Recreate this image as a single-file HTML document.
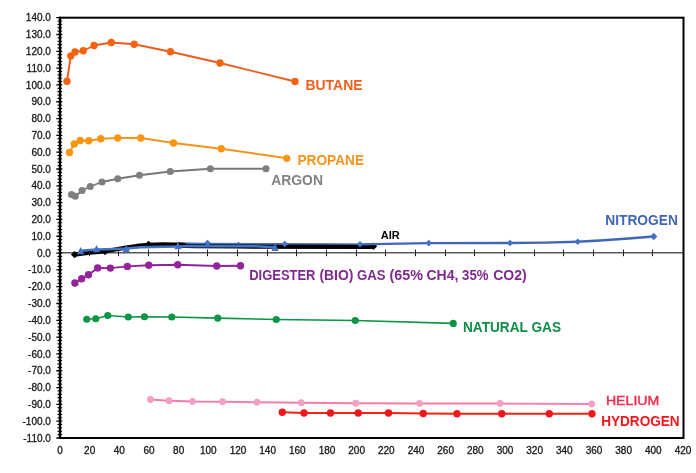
<!DOCTYPE html>
<html lang="en"><head><meta charset="utf-8"><title>Gas chart</title>
<style>html,body{margin:0;padding:0;background:#fff;}body{width:696px;height:473px;overflow:hidden}</style></head>
<body>
<svg width="696" height="473" viewBox="0 0 696 473" style="display:block">
<rect width="696" height="473" fill="#fff"/>
<line x1="60.0" y1="252.80" x2="683.5" y2="252.80" stroke="#58595b" stroke-width="1.5"/>
<path d="M89.5 249.50V256.20M118.5 249.50V256.20M148.5 249.50V256.20M178.5 249.50V256.20M207.5 249.50V256.20M237.5 249.50V256.20M267.5 249.50V256.20M296.5 249.50V256.20M326.5 249.50V256.20M356.5 249.50V256.20M385.5 249.50V256.20M415.5 249.50V256.20M445.5 249.50V256.20M474.5 249.50V256.20M504.5 249.50V256.20M534.5 249.50V256.20M563.5 249.50V256.20M593.5 249.50V256.20M623.5 249.50V256.20M652.5 249.50V256.20" stroke="#231f20" stroke-width="1" fill="none"/>
<path d="M74.60 254.60L82.00 253.60L90.00 252.70L105.00 251.30L115.00 249.50L126.00 247.70L137.00 246.00L148.50 244.80L163.00 244.50L175.00 244.60L185.00 245.10L195.00 245.50L238.50 245.80L275.00 246.20L300.00 246.30L340.00 246.30L373.50 246.30" stroke="#000" stroke-width="4.3" fill="none" stroke-linejoin="round" stroke-linecap="round"/>
<path d="M178 244.9L186 245.3L195 245.6L238.5 245.9L275 246.2L373.5 246.3" stroke="#000" stroke-width="5.2" fill="none" stroke-linejoin="round"/>
<path d="M74.60 250.90L78.30 254.60L74.60 258.30L70.90 254.60Z" fill="#000"/>
<path d="M105.00 248.00L108.60 251.60L105.00 255.20L101.40 251.60Z" fill="#000"/>
<path d="M148.50 240.70L152.40 244.60L148.50 248.50L144.60 244.60Z" fill="#000"/>
<path d="M238.50 242.00L241.80 245.30L238.50 248.60L235.20 245.30Z" fill="#000"/>
<path d="M373.50 242.60L377.20 246.30L373.50 250.00L369.80 246.30Z" fill="#000"/>
<path d="M186 243.3L207.5 243.5L284.75 244.0" stroke="#4472c4" stroke-width="1.5" fill="none"/>
<path d="M284.75 244.1L360 244.3" stroke="#3357ad" stroke-width="1.2" fill="none"/>
<path d="M80.6 250.7L96.5 249.5L115 248.9L126 248.5L140 247.3L165 246.8L178 246.5L190 246.1L255 246.2L275 247.2" stroke="#4472c4" stroke-width="2.5" fill="none" stroke-linejoin="round"/>
<path d="M80.60 246.90L84.30 254.30L76.90 254.30Z" fill="#4472c4"/>
<path d="M96.50 244.90L100.20 252.30L92.80 252.30Z" fill="#4472c4"/>
<path d="M126.25 244.90L129.95 252.30L122.55 252.30Z" fill="#4472c4"/>
<path d="M178.00 241.90L181.70 249.30L174.30 249.30Z" fill="#4472c4"/>
<path d="M275.00 243.60L278.70 251.00L271.30 251.00Z" fill="#4472c4"/>
<path d="M577.75 241.75L600.00 240.50L625.00 238.80L653.70 236.50" stroke="#4166b8" stroke-width="2.5" fill="none" stroke-linejoin="round"/>
<path d="M360.00 244.30L428.75 243.10L510.00 243.00L545.00 242.70L577.75 241.75" stroke="#4166b8" stroke-width="2.3" fill="none" stroke-linejoin="round"/>
<path d="M207.50 239.70L210.80 243.00L207.50 246.30L204.20 243.00Z" fill="#4472c4"/>
<path d="M284.75 240.70L288.05 244.00L284.75 247.30L281.45 244.00Z" fill="#4472c4"/>
<path d="M360.00 241.00L363.30 244.30L360.00 247.60L356.70 244.30Z" fill="#4472c4"/>
<path d="M428.75 239.80L432.05 243.10L428.75 246.40L425.45 243.10Z" fill="#4472c4"/>
<path d="M510.00 239.70L513.30 243.00L510.00 246.30L506.70 243.00Z" fill="#4472c4"/>
<path d="M577.75 238.45L581.05 241.75L577.75 245.05L574.45 241.75Z" fill="#4472c4"/>
<path d="M653.70 232.80L657.40 236.50L653.70 240.20L650.00 236.50Z" fill="#4472c4"/>
<path d="M67.00 81.25L70.75 56.00L75.00 52.00L83.25 50.75L94.00 45.50L111.25 42.50L134.25 44.25L170.50 51.75L220.00 63.00L295.00 81.50" stroke="#f25a1e" stroke-width="1.9" fill="none" stroke-linejoin="round"/>
<g fill="#f6630f"><circle cx="67.00" cy="81.25" r="3.65"/><circle cx="70.75" cy="56.00" r="3.65"/><circle cx="75.00" cy="52.00" r="3.65"/><circle cx="83.25" cy="50.75" r="3.65"/><circle cx="94.00" cy="45.50" r="3.65"/><circle cx="111.25" cy="42.50" r="3.65"/><circle cx="134.25" cy="44.25" r="3.65"/><circle cx="170.50" cy="51.75" r="3.65"/><circle cx="220.00" cy="63.00" r="3.65"/><circle cx="295.00" cy="81.50" r="3.65"/></g>
<path d="M69.50 152.50L74.25 144.00L80.25 140.50L88.75 140.75L100.75 138.75L117.75 138.00L140.75 138.00L173.50 143.00L221.25 148.75L286.80 158.30" stroke="#f7921e" stroke-width="1.9" fill="none" stroke-linejoin="round"/>
<g fill="#fa950f"><circle cx="69.50" cy="152.50" r="3.65"/><circle cx="74.25" cy="144.00" r="3.65"/><circle cx="80.25" cy="140.50" r="3.65"/><circle cx="88.75" cy="140.75" r="3.65"/><circle cx="100.75" cy="138.75" r="3.65"/><circle cx="117.75" cy="138.00" r="3.65"/><circle cx="140.75" cy="138.00" r="3.65"/><circle cx="173.50" cy="143.00" r="3.65"/><circle cx="221.25" cy="148.75" r="3.65"/><circle cx="286.80" cy="158.30" r="3.65"/></g>
<path d="M71.50 194.50L75.25 196.25L82.00 190.50L90.25 186.50L102.00 182.00L117.75 178.75L139.50 175.25L170.25 171.50L210.40 168.75L266.00 168.75" stroke="#787878" stroke-width="1.8" fill="none" stroke-linejoin="round"/>
<g fill="#7f7f7f"><circle cx="71.50" cy="194.50" r="3.55"/><circle cx="75.25" cy="196.25" r="3.55"/><circle cx="82.00" cy="190.50" r="3.55"/><circle cx="90.25" cy="186.50" r="3.55"/><circle cx="102.00" cy="182.00" r="3.55"/><circle cx="117.75" cy="178.75" r="3.55"/><circle cx="139.50" cy="175.25" r="3.55"/><circle cx="170.25" cy="171.50" r="3.55"/><circle cx="210.40" cy="168.75" r="3.55"/><circle cx="266.00" cy="168.75" r="3.55"/></g>
<path d="M74.90 283.00L81.70 278.70L88.50 274.70L97.70 267.90L110.40 268.10L127.35 266.40L148.75 265.25L177.75 264.75L216.75 266.00L240.50 265.75" stroke="#8e2494" stroke-width="1.9" fill="none" stroke-linejoin="round"/>
<g fill="#96239c"><circle cx="74.90" cy="283.00" r="3.7"/><circle cx="81.70" cy="278.70" r="3.7"/><circle cx="88.50" cy="274.70" r="3.7"/><circle cx="97.70" cy="267.90" r="3.7"/><circle cx="110.40" cy="268.10" r="3.7"/><circle cx="127.35" cy="266.40" r="3.7"/><circle cx="148.75" cy="265.25" r="3.7"/><circle cx="177.75" cy="264.75" r="3.7"/><circle cx="216.75" cy="266.00" r="3.7"/><circle cx="240.50" cy="265.75" r="3.7"/></g>
<path d="M86.75 319.25L95.75 318.75L107.75 315.50L128.25 317.00L144.50 316.75L171.75 317.00L217.75 318.10L276.25 319.50L355.25 320.50L453.25 323.40" stroke="#0c9545" stroke-width="1.6" fill="none" stroke-linejoin="round"/>
<g fill="#0d9446"><circle cx="86.75" cy="319.25" r="3.6"/><circle cx="95.75" cy="318.75" r="3.6"/><circle cx="107.75" cy="315.50" r="3.6"/><circle cx="128.25" cy="317.00" r="3.6"/><circle cx="144.50" cy="316.75" r="3.6"/><circle cx="171.75" cy="317.00" r="3.6"/><circle cx="217.75" cy="318.10" r="3.6"/><circle cx="276.25" cy="319.50" r="3.6"/><circle cx="355.25" cy="320.50" r="3.6"/><circle cx="453.25" cy="323.40" r="3.6"/></g>
<path d="M150.50 399.50L169.00 400.75L192.50 401.50L222.50 401.75L257.00 402.25L301.25 402.75L355.75 403.25L419.50 403.50L500.00 403.50L591.75 404.00" stroke="#f67dab" stroke-width="1.8" fill="none" stroke-linejoin="round"/>
<g fill="#f4a0c5"><circle cx="150.50" cy="399.50" r="3.4"/><circle cx="169.00" cy="400.75" r="3.4"/><circle cx="192.50" cy="401.50" r="3.4"/><circle cx="222.50" cy="401.75" r="3.4"/><circle cx="257.00" cy="402.25" r="3.4"/><circle cx="301.25" cy="402.75" r="3.4"/><circle cx="355.75" cy="403.25" r="3.4"/><circle cx="419.50" cy="403.50" r="3.4"/><circle cx="500.00" cy="403.50" r="3.4"/><circle cx="591.75" cy="404.00" r="3.4"/></g>
<path d="M282.30 412.30L304.00 412.95L330.50 412.95L358.25 412.95L388.50 412.95L423.25 413.45L457.00 413.70L501.75 413.70L549.25 413.70L592.00 413.70" stroke="#fa2014" stroke-width="2.0" fill="none" stroke-linejoin="round"/>
<g fill="#f0161e"><circle cx="282.30" cy="412.30" r="3.7"/><circle cx="304.00" cy="412.95" r="3.7"/><circle cx="330.50" cy="412.95" r="3.7"/><circle cx="358.25" cy="412.95" r="3.7"/><circle cx="388.50" cy="412.95" r="3.7"/><circle cx="423.25" cy="413.45" r="3.7"/><circle cx="457.00" cy="413.70" r="3.7"/><circle cx="501.75" cy="413.70" r="3.7"/><circle cx="549.25" cy="413.70" r="3.7"/><circle cx="592.00" cy="413.70" r="3.7"/></g>
<rect x="60.0" y="17.7" width="623.5" height="420.3" fill="none" stroke="#000" stroke-width="2"/>
<line x1="60.0" y1="16.7" x2="60.0" y2="439.0" stroke="#000" stroke-width="2.4"/>
<path d="M57.40 21.06H62.10M57.40 24.42H62.10M57.40 27.79H62.10M57.40 31.15H62.10M57.40 37.87H62.10M57.40 41.24H62.10M57.40 44.60H62.10M57.40 47.96H62.10M57.40 54.69H62.10M57.40 58.05H62.10M57.40 61.41H62.10M57.40 64.77H62.10M57.40 71.50H62.10M57.40 74.86H62.10M57.40 78.22H62.10M57.40 81.59H62.10M57.40 88.31H62.10M57.40 91.67H62.10M57.40 95.04H62.10M57.40 98.40H62.10M57.40 105.12H62.10M57.40 108.48H62.10M57.40 111.85H62.10M57.40 115.21H62.10M57.40 121.93H62.10M57.40 125.30H62.10M57.40 128.66H62.10M57.40 132.02H62.10M57.40 138.75H62.10M57.40 142.11H62.10M57.40 145.47H62.10M57.40 148.83H62.10M57.40 155.56H62.10M57.40 158.92H62.10M57.40 162.28H62.10M57.40 165.65H62.10M57.40 172.37H62.10M57.40 175.73H62.10M57.40 179.10H62.10M57.40 182.46H62.10M57.40 189.18H62.10M57.40 192.54H62.10M57.40 195.91H62.10M57.40 199.27H62.10M57.40 205.99H62.10M57.40 209.36H62.10M57.40 212.72H62.10M57.40 216.08H62.10M57.40 222.81H62.10M57.40 226.17H62.10M57.40 229.53H62.10M57.40 232.89H62.10M57.40 239.62H62.10M57.40 242.98H62.10M57.40 246.34H62.10M57.40 249.71H62.10M57.40 256.43H62.10M57.40 259.79H62.10M57.40 263.16H62.10M57.40 266.52H62.10M57.40 273.24H62.10M57.40 276.60H62.10M57.40 279.97H62.10M57.40 283.33H62.10M57.40 290.05H62.10M57.40 293.42H62.10M57.40 296.78H62.10M57.40 300.14H62.10M57.40 306.87H62.10M57.40 310.23H62.10M57.40 313.59H62.10M57.40 316.95H62.10M57.40 323.68H62.10M57.40 327.04H62.10M57.40 330.40H62.10M57.40 333.77H62.10M57.40 340.49H62.10M57.40 343.85H62.10M57.40 347.22H62.10M57.40 350.58H62.10M57.40 357.30H62.10M57.40 360.66H62.10M57.40 364.03H62.10M57.40 367.39H62.10M57.40 374.11H62.10M57.40 377.48H62.10M57.40 380.84H62.10M57.40 384.20H62.10M57.40 390.93H62.10M57.40 394.29H62.10M57.40 397.65H62.10M57.40 401.01H62.10M57.40 407.74H62.10M57.40 411.10H62.10M57.40 414.46H62.10M57.40 417.83H62.10M57.40 424.55H62.10M57.40 427.91H62.10M57.40 431.28H62.10M57.40 434.64H62.10" stroke="#000" stroke-width="1" fill="none"/>
<path d="M56.30 17.70H62.30M56.30 34.51H62.30M56.30 51.32H62.30M56.30 68.14H62.30M56.30 84.95H62.30M56.30 101.76H62.30M56.30 118.57H62.30M56.30 135.38H62.30M56.30 152.20H62.30M56.30 169.01H62.30M56.30 185.82H62.30M56.30 202.63H62.30M56.30 219.44H62.30M56.30 236.26H62.30M56.30 253.07H62.30M56.30 269.88H62.30M56.30 286.69H62.30M56.30 303.50H62.30M56.30 320.32H62.30M56.30 337.13H62.30M56.30 353.94H62.30M56.30 370.75H62.30M56.30 387.56H62.30M56.30 404.38H62.30M56.30 421.19H62.30M56.30 438.00H62.30" stroke="#000" stroke-width="1.3" fill="none"/>
<g font-family="&quot;Liberation Sans&quot;, Arial, sans-serif" font-size="10" fill="#1a1718" stroke="#1a1718" stroke-width="0.3">
<text x="50.9" y="21.30" text-anchor="end">140.0</text>
<text x="50.9" y="38.11" text-anchor="end">130.0</text>
<text x="50.9" y="54.92" text-anchor="end">120.0</text>
<text x="50.9" y="71.74" text-anchor="end">110.0</text>
<text x="50.9" y="88.55" text-anchor="end">100.0</text>
<text x="50.9" y="105.36" text-anchor="end">90.0</text>
<text x="50.9" y="122.17" text-anchor="end">80.0</text>
<text x="50.9" y="138.98" text-anchor="end">70.0</text>
<text x="50.9" y="155.80" text-anchor="end">60.0</text>
<text x="50.9" y="172.61" text-anchor="end">50.0</text>
<text x="50.9" y="189.42" text-anchor="end">40.0</text>
<text x="50.9" y="206.23" text-anchor="end">30.0</text>
<text x="50.9" y="223.04" text-anchor="end">20.0</text>
<text x="50.9" y="239.86" text-anchor="end">10.0</text>
<text x="50.9" y="256.67" text-anchor="end">0.0</text>
<text x="50.9" y="273.48" text-anchor="end">-10.0</text>
<text x="50.9" y="290.29" text-anchor="end">-20.0</text>
<text x="50.9" y="307.10" text-anchor="end">-30.0</text>
<text x="50.9" y="323.92" text-anchor="end">-40.0</text>
<text x="50.9" y="340.73" text-anchor="end">-50.0</text>
<text x="50.9" y="357.54" text-anchor="end">-60.0</text>
<text x="50.9" y="374.35" text-anchor="end">-70.0</text>
<text x="50.9" y="391.16" text-anchor="end">-80.0</text>
<text x="50.9" y="407.98" text-anchor="end">-90.0</text>
<text x="50.9" y="424.79" text-anchor="end">-100.0</text>
<text x="50.9" y="441.60" text-anchor="end">-110.0</text>
<text x="60.00" y="454.3" text-anchor="middle">0</text>
<text x="89.67" y="454.3" text-anchor="middle">20</text>
<text x="119.33" y="454.3" text-anchor="middle">40</text>
<text x="149.00" y="454.3" text-anchor="middle">60</text>
<text x="178.67" y="454.3" text-anchor="middle">80</text>
<text x="208.33" y="454.3" text-anchor="middle">100</text>
<text x="238.00" y="454.3" text-anchor="middle">120</text>
<text x="267.67" y="454.3" text-anchor="middle">140</text>
<text x="297.33" y="454.3" text-anchor="middle">160</text>
<text x="327.00" y="454.3" text-anchor="middle">180</text>
<text x="356.67" y="454.3" text-anchor="middle">200</text>
<text x="386.33" y="454.3" text-anchor="middle">220</text>
<text x="416.00" y="454.3" text-anchor="middle">240</text>
<text x="445.67" y="454.3" text-anchor="middle">260</text>
<text x="475.33" y="454.3" text-anchor="middle">280</text>
<text x="505.00" y="454.3" text-anchor="middle">300</text>
<text x="534.67" y="454.3" text-anchor="middle">320</text>
<text x="564.33" y="454.3" text-anchor="middle">340</text>
<text x="594.00" y="454.3" text-anchor="middle">360</text>
<text x="623.67" y="454.3" text-anchor="middle">380</text>
<text x="653.33" y="454.3" text-anchor="middle">400</text>
<text x="683.00" y="454.3" text-anchor="middle">420</text>
</g>
<g font-family="&quot;Liberation Sans&quot;, Arial, sans-serif" font-weight="bold">
<text x="305.5" y="90" font-size="14" fill="#f15f1c" textLength="57.0" lengthAdjust="spacingAndGlyphs">BUTANE</text>
<text x="297.5" y="165" font-size="14" fill="#f7941d" textLength="66.6" lengthAdjust="spacingAndGlyphs">PROPANE</text>
<text x="271.2" y="185.3" font-size="14" fill="#808285" textLength="51.8" lengthAdjust="spacingAndGlyphs">ARGON</text>
<text x="605.2" y="225.4" font-size="14" fill="#4166b8" textLength="72.7" lengthAdjust="spacingAndGlyphs">NITROGEN</text>
<text x="380.8" y="238.8" font-size="10.5" fill="#000" textLength="19.0" lengthAdjust="spacingAndGlyphs">AIR</text>
<text x="463.0" y="332.1" font-size="14" fill="#0f8e47" textLength="98.0" lengthAdjust="spacingAndGlyphs">NATURAL GAS</text>
<text x="605.9" y="404.7" font-size="13.6" fill="#ee2d4b" font-weight="normal" stroke="#ee2d4b" stroke-width="0.45" textLength="53.4" lengthAdjust="spacingAndGlyphs">HELIUM</text>
<text x="601.2" y="426" font-size="14" fill="#f4161c" textLength="78.5" lengthAdjust="spacingAndGlyphs">HYDROGEN</text>
<text y="280.4" font-size="14" fill="#7f2a90"><tspan x="249.2" textLength="66.3" lengthAdjust="spacingAndGlyphs">DIGESTER</tspan> <tspan x="319.4" textLength="34.0" lengthAdjust="spacingAndGlyphs">(BIO)</tspan> <tspan x="357.0" textLength="28.5" lengthAdjust="spacingAndGlyphs">GAS</tspan> <tspan x="389.4" textLength="33.5" lengthAdjust="spacingAndGlyphs">(65%</tspan> <tspan x="426.5" textLength="31.9" lengthAdjust="spacingAndGlyphs">CH4,</tspan> <tspan x="462.1" textLength="26.4" lengthAdjust="spacingAndGlyphs">35%</tspan> <tspan x="493.2" textLength="33.5" lengthAdjust="spacingAndGlyphs">CO2)</tspan></text>
</g>
</svg>
</body></html>
